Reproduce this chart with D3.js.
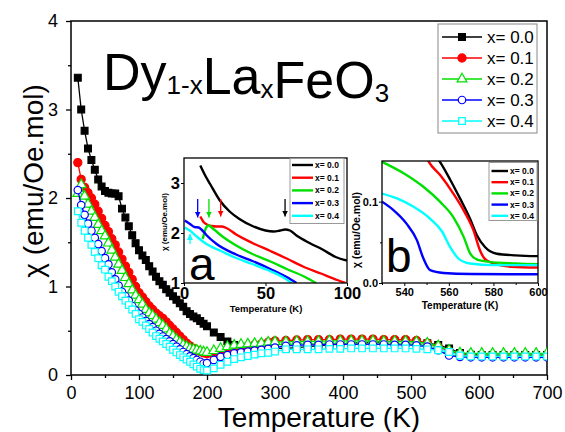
<!DOCTYPE html>
<html>
<head>
<meta charset="utf-8">
<title>Dy1-xLaxFeO3 susceptibility</title>
<script src="https://d3js.org/d3.v7.min.js"></script>
<style>
    body { margin: 0; background: #fff; }
    svg { font-family: Arial, 'Liberation Sans', sans-serif; }
</style>
</head>
<body>
<svg id="chart" width="565" height="432"></svg>
<script>
    // ---- data ----
    const labels = ["x= 0.0", "x= 0.1", "x= 0.2", "x= 0.3", "x= 0.4"];
    const colors = ["#000000", "#ff0000", "#00e000", "#0000ff", "#00ffff"];

    // main panel, temperature (K)
    const temps = [10,15,20,25,30,35,40,45,50,55,60,65,70,75,80,85,90,95,100,105,110,115,120,125,130,135,140,145,150,155,160,165,170,175,180,185,190,195,200,
                   210,220,230,240,250,260,270,280,290,300,
                   316,332,348,364,380,396,412,428,444,460,476,492,508,524,540,556,572,588,604,620,636,652,668,684,700];

    // chi (emu/Oe.mol) per composition
    const chi00 = [3.36,3.00,2.76,2.56,2.43,2.32,2.21,2.13,2.08,2.06,2.05,2.05,2.02,1.88,1.78,1.68,1.58,1.49,1.41,1.35,1.30,1.23,1.17,1.11,1.06,1.02,0.97,0.93,0.89,0.85,0.81,0.77,0.72,0.69,0.66,0.64,0.61,0.58,0.55,
                   0.48,0.43,0.38,0.34,0.32,0.31,0.30,0.30,0.30,0.30,
                   0.30,0.31,0.32,0.33,0.34,0.35,0.36,0.365,0.37,0.375,0.38,0.38,0.375,0.36,0.34,0.30,0.25,0.23,0.225,0.225,0.225,0.225,0.225,0.225,0.225];
    const chi01 = [2.40,2.21,2.12,2.06,2.00,1.93,1.85,1.77,1.69,1.62,1.54,1.47,1.39,1.31,1.23,1.16,1.08,1.00,0.93,0.88,0.83,0.78,0.74,0.70,0.67,0.64,0.60,0.56,0.52,0.48,0.44,0.40,0.36,0.33,0.30,0.28,0.265,0.25,0.24,
                   0.225,0.24,0.26,0.28,0.30,0.32,0.34,0.35,0.37,0.385,
                   0.39,0.395,0.40,0.40,0.40,0.405,0.405,0.405,0.405,0.40,0.40,0.40,0.39,0.36,0.32,0.27,0.235,0.225,0.22,0.22,0.22,0.22,0.22,0.22,0.22];
    const chi02 = [2.05,2.15,2.02,1.93,1.85,1.78,1.70,1.63,1.57,1.49,1.41,1.33,1.25,1.18,1.10,1.03,0.96,0.90,0.85,0.80,0.74,0.70,0.67,0.63,0.59,0.56,0.52,0.47,0.44,0.40,0.37,0.34,0.32,0.30,0.29,0.28,0.27,0.26,0.255,
                   0.275,0.30,0.32,0.335,0.345,0.35,0.355,0.36,0.37,0.375,
                   0.375,0.38,0.38,0.38,0.385,0.385,0.385,0.385,0.385,0.38,0.38,0.38,0.375,0.36,0.33,0.28,0.25,0.245,0.245,0.245,0.245,0.245,0.245,0.245,0.245];
    const chi03 = [2.09,1.92,1.81,1.71,1.63,1.55,1.48,1.40,1.32,1.25,1.16,1.08,1.01,0.94,0.89,0.84,0.78,0.73,0.69,0.65,0.61,0.575,0.54,0.50,0.465,0.435,0.405,0.38,0.35,0.32,0.29,0.26,0.235,0.21,0.19,0.17,0.15,0.13,0.135,
                   0.17,0.205,0.225,0.245,0.255,0.265,0.275,0.285,0.295,0.31,
                   0.33,0.335,0.34,0.34,0.345,0.345,0.345,0.345,0.345,0.345,0.34,0.34,0.335,0.32,0.28,0.22,0.205,0.20,0.20,0.20,0.20,0.20,0.20,0.20,0.20];
    const chi04 = [1.85,1.72,1.63,1.55,1.47,1.39,1.32,1.24,1.19,1.11,1.06,1.00,0.94,0.89,0.84,0.79,0.74,0.69,0.63,0.60,0.56,0.52,0.48,0.44,0.41,0.38,0.35,0.32,0.285,0.255,0.225,0.20,0.175,0.15,0.12,0.095,0.07,0.055,0.05,
                   0.075,0.115,0.15,0.18,0.20,0.215,0.23,0.245,0.25,0.265,
                   0.29,0.29,0.29,0.29,0.295,0.295,0.30,0.30,0.30,0.30,0.30,0.30,0.295,0.29,0.28,0.26,0.22,0.21,0.21,0.21,0.21,0.21,0.21,0.21,0.21];

    // inset a: low temperature detail [T, chi]
    const lowT00 = [[10,3.35],[13,3.15],[16,2.98],[22,2.65],[28,2.43],[34,2.28],[42,2.14],[50,2.05],[55,2.03],[59,2.05],[62,2.07],[65,2.05],[69,1.95],[77,1.80],[85,1.67],[93,1.52],[100,1.45]];
    const lowT01 = [[10,2.33],[12,2.22],[14,2.17],[17,2.14],[20,2.13],[23,2.13],[26,2.10],[32,1.97],[42,1.80],[53,1.64],[63,1.49],[73,1.33],[84,1.19],[94,1.06],[99,1.0]];
    const lowT02 = [[11.5,1.88],[13,2.06],[15,2.15],[18,2.08],[24,1.92],[32,1.75],[42,1.58],[53,1.43],[63,1.28],[73,1.14],[81,1.0]];
    const lowT03 = [[0.5,2.25],[3.7,2.18],[6.5,2.12],[9,2.11],[11,2.06],[14,1.95],[20,1.78],[32,1.57],[42,1.44],[53,1.28],[63,1.12],[69,1.0]];
    const lowT04 = [[0.5,2.11],[3.5,2.05],[7.8,1.93],[12,1.82],[16,1.74],[22,1.65],[32,1.50],[42,1.38],[52,1.25],[60,1.13],[66,1.0]];
    // arrows in inset a: [T, chi start, chi end]
    const arrowsA = [[62,2.68,2.33],[22.5,2.68,2.33],[15.3,2.68,2.31],[8.4,2.68,2.31],[3.7,1.78,1.98]];

    // inset b: high temperature detail [T, chi]
    const highT00 = [[553,0.16],[556,0.149],[560.6,0.127],[565,0.104],[569.5,0.079],[572.5,0.059],[576.3,0.044],[581.5,0.036],[590,0.034],[600,0.033]];
    const highT01 = [[549,0.16],[551,0.149],[556,0.133],[562,0.11],[567,0.0875],[571,0.065],[574,0.040],[576,0.030],[580,0.024],[588,0.020],[600,0.019]];
    const highT02 = [[530,0.149],[539.7,0.135],[548.7,0.118],[556,0.10],[562,0.081],[566.6,0.057],[569.6,0.036],[572.5,0.029],[578,0.026],[590,0.024],[600,0.023]];
    const highT03 = [[530,0.10],[535,0.09],[541,0.073],[545.6,0.053],[548.6,0.030],[551.6,0.0157],[557.6,0.0123],[570,0.011],[600,0.0107]];
    const highT04 = [[530,0.11],[536.7,0.104],[544,0.094],[551.6,0.079],[557,0.063],[560.6,0.044],[564.3,0.030],[569.5,0.024],[580,0.022],[600,0.022]];

    const mainTicksX = [0,100,200,300,400,500,600,700];
    const mainTicksY = [0,1,2,3,4];

    const chis = [chi00, chi01, chi02, chi03, chi04];
    const lowSets = [lowT00, lowT01, lowT02, lowT03, lowT04];
    const highSets = [highT00, highT01, highT02, highT03, highT04];
    const symbols = [d3.symbolSquare, d3.symbolCircle, d3.symbolTriangle, d3.symbolCircle, d3.symbolSquare];
    const symSize = [46, 52, 42, 44, 44];
    const filled = [true, true, false, false, false];

    const series = labels.map((name, i) => ({
        name, color: colors[i], sym: symbols[i], size: symSize[i], filled: filled[i],
        pts: temps.map((t, j) => [t, chis[i][j]]),
        low: lowSets[i], high: highSets[i]
    }));

    const svg = d3.select("#chart");
    const fmtInt = d3.format("d");

    // ---- main panel ----
    const x = d3.scaleLinear().domain([0, 700]).range([71, 547]);
    const y = d3.scaleLinear().domain([0, 4]).range([375, 21]);

    const defs = svg.append("defs");
    defs.append("clipPath").attr("id", "clipMain")
        .append("rect").attr("x", 71).attr("y", 21).attr("width", 476).attr("height", 354);

    // minor ticks
    svg.append("g").attr("transform", "translate(0,375)")
        .call(d3.axisBottom(x).tickValues(d3.range(50, 700, 100)).tickSize(3).tickFormat(""))
        .call(g => g.select(".domain").remove())
        .selectAll("line").attr("stroke-width", 1.3);
    svg.append("g").attr("transform", "translate(71,0)")
        .call(d3.axisLeft(y).tickValues([0.5, 1.5, 2.5, 3.5]).tickSize(3).tickFormat(""))
        .call(g => g.select(".domain").remove())
        .selectAll("line").attr("stroke-width", 1.3);

    const xAxis = svg.append("g").attr("transform", "translate(0,375)")
        .call(d3.axisBottom(x).tickValues(mainTicksX).tickFormat(fmtInt).tickSize(5).tickPadding(6).tickSizeOuter(0));
    const yAxis = svg.append("g").attr("transform", "translate(71,0)")
        .call(d3.axisLeft(y).tickValues(mainTicksY).tickFormat(fmtInt).tickSize(5).tickPadding(8).tickSizeOuter(0));
    [xAxis, yAxis].forEach(a => {
        a.selectAll("text").attr("font-size", 18).attr("font-family", "Arial, 'Liberation Sans', sans-serif");
        a.selectAll("line").attr("stroke-width", 1.3);
        a.select(".domain").remove();
    });

    svg.append("rect").attr("x", 71).attr("y", 21).attr("width", 476).attr("height", 354)
        .attr("fill", "none").attr("stroke", "#000").attr("stroke-width", 1.5);

    const mainLine = d3.line().x(d => x(d[0])).y(d => y(d[1]));
    const dataG = svg.append("g").attr("clip-path", "url(#clipMain)");
    series.forEach(s => {
        dataG.append("path").datum(s.pts)
            .attr("d", mainLine).attr("fill", "none")
            .attr("stroke", s.color).attr("stroke-width", 1.3);
        dataG.selectAll(null).data(s.pts).enter().append("path")
            .attr("transform", d => `translate(${x(d[0])},${y(d[1])})`)
            .attr("d", d3.symbol().type(s.sym).size(s.size))
            .attr("fill", s.filled ? s.color : "#fff")
            .attr("stroke", s.color).attr("stroke-width", 1.2);
    });

    // axis titles
    svg.append("text").attr("x", 319).attr("y", 427).attr("text-anchor", "middle")
        .attr("font-size", 28).text("Temperature (K)");
    svg.append("text").attr("transform", "translate(43,181) rotate(-90)")
        .attr("text-anchor", "middle").attr("font-size", 28).text("χ (emu/Oe.mol)");

    // formula title
    const title = svg.append("text").attr("x", 103).attr("y", 90).attr("font-size", 52);
    [["Dy", false], ["1-x", true], ["La", false], ["x", true], ["FeO", false], ["3", true]].forEach(([t, sub]) => {
        title.append("tspan").attr("font-size", sub ? 26 : 52).attr("dy", sub ? 4 : 0)
            .text(t);
        if (sub) title.append("tspan").attr("dy", -4).attr("font-size", 52).text("");
    });

    // main legend
    const leg = svg.append("g");
    leg.append("rect").attr("x", 438).attr("y", 24).attr("width", 99).attr("height", 109)
        .attr("fill", "#fff").attr("stroke", "#888").attr("stroke-width", 1);
    series.forEach((s, i) => {
        const ly = 37 + i * 21;
        leg.append("line").attr("x1", 442).attr("x2", 482).attr("y1", ly).attr("y2", ly)
            .attr("stroke", s.color).attr("stroke-width", 1.3);
        leg.append("path").attr("transform", `translate(462,${ly})`)
            .attr("d", d3.symbol().type(s.sym).size(s.size))
            .attr("fill", s.filled ? s.color : "#fff").attr("stroke", s.color).attr("stroke-width", 1.2);
        leg.append("text").attr("x", 487).attr("y", ly).attr("dy", "0.36em")
            .attr("font-size", 17).text(s.name);
    });

    // ---- inset a ----
    const xa = d3.scaleLinear().domain([0, 100]).range([184, 347]);
    const ya = d3.scaleLinear().domain([1, 3.5]).range([283, 158]);
    defs.append("clipPath").attr("id", "clipA")
        .append("rect").attr("x", 184).attr("y", 158).attr("width", 163).attr("height", 125);
    const ga = svg.append("g");
    ga.append("rect").attr("x", 184).attr("y", 158).attr("width", 163).attr("height", 125).attr("fill", "#fff");

    const axA = ga.append("g").attr("transform", "translate(0,283)")
        .call(d3.axisBottom(xa).tickValues([0, 50, 100]).tickFormat(fmtInt).tickSize(3).tickPadding(1).tickSizeOuter(0));
    const ayA = ga.append("g").attr("transform", "translate(184,0)")
        .call(d3.axisLeft(ya).tickValues([1, 2, 3]).tickFormat(fmtInt).tickSize(3).tickPadding(1).tickSizeOuter(0));
    [axA, ayA].forEach(a => {
        a.selectAll("text").attr("font-size", 16.5).attr("font-weight", "bold")
            .attr("font-family", "Arial, 'Liberation Sans', sans-serif");
        a.select(".domain").remove();
    });

    const lineA = d3.line().x(d => xa(d[0])).y(d => ya(d[1])).curve(d3.curveMonotoneX);
    const dA = ga.append("g").attr("clip-path", "url(#clipA)");
    series.forEach(s => {
        dA.append("path").datum(s.low).attr("d", lineA).attr("fill", "none")
            .attr("stroke", s.color).attr("stroke-width", 2.4);
    });

    series.forEach((s, i) => {
        const id = "arrow" + i;
        defs.append("marker").attr("id", id).attr("markerUnits", "userSpaceOnUse")
            .attr("markerWidth", 7).attr("markerHeight", 7).attr("refX", 6).attr("refY", 3)
            .attr("orient", "auto")
            .append("path").attr("d", "M0,0 L6,3 L0,6 Z").attr("fill", s.color);
        const a = arrowsA[i];
        ga.append("line").attr("x1", xa(a[0])).attr("x2", xa(a[0]))
            .attr("y1", ya(a[1])).attr("y2", ya(a[2]))
            .attr("stroke", s.color).attr("stroke-width", 1.3).attr("marker-end", `url(#${id})`);
    });

    ga.append("rect").attr("x", 184).attr("y", 158).attr("width", 163).attr("height", 125)
        .attr("fill", "none").attr("stroke", "#000").attr("stroke-width", 1.3);
    ga.append("text").attr("x", 189).attr("y", 280).attr("font-size", 46).text("a");
    ga.append("text").attr("x", 266).attr("y", 311.5).attr("text-anchor", "middle")
        .attr("font-size", 9.5).attr("font-weight", "bold").text("Temperature (K)");
    ga.append("text").attr("transform", "translate(167,222) rotate(-90)").attr("text-anchor", "middle")
        .attr("font-size", 8).attr("font-weight", "bold").text("χ (emu/Oe.mol)");

    const legA = ga.append("g");
    legA.append("rect").attr("x", 290).attr("y", 158.5).attr("width", 54).attr("height", 65)
        .attr("fill", "#fff").attr("stroke", "#999").attr("stroke-width", 1);
    series.forEach((s, i) => {
        const ly = 165 + i * 12.7;
        legA.append("line").attr("x1", 292).attr("x2", 313).attr("y1", ly).attr("y2", ly)
            .attr("stroke", s.color).attr("stroke-width", 2.4);
        legA.append("text").attr("x", 315).attr("y", ly).attr("dy", "0.36em")
            .attr("font-size", 8.5).attr("font-weight", "bold").text(s.name);
    });

    // ---- inset b ----
    const xb = d3.scaleLinear().domain([530, 600]).range([382, 538]);
    const yb = d3.scaleLinear().domain([0, 0.15]).range([283, 161]);
    defs.append("clipPath").attr("id", "clipB")
        .append("rect").attr("x", 382).attr("y", 161).attr("width", 156).attr("height", 122);
    const gb = svg.append("g");
    gb.append("rect").attr("x", 382).attr("y", 161).attr("width", 156).attr("height", 122).attr("fill", "#fff");

    gb.append("g").attr("transform", "translate(0,283)")
        .call(d3.axisBottom(xb).tickValues([530, 550, 570, 590]).tickSize(2).tickFormat(""))
        .call(g => g.select(".domain").remove());
    gb.append("g").attr("transform", "translate(382,0)")
        .call(d3.axisLeft(yb).tickValues([0.05]).tickSize(2).tickFormat(""))
        .call(g => g.select(".domain").remove());
    const axB = gb.append("g").attr("transform", "translate(0,283)")
        .call(d3.axisBottom(xb).tickValues([540, 560, 580, 600]).tickFormat(fmtInt).tickSize(3).tickPadding(2).tickSizeOuter(0));
    const ayB = gb.append("g").attr("transform", "translate(382,0)")
        .call(d3.axisLeft(yb).tickValues([0, 0.1]).tickFormat(d3.format(".1f")).tickSize(3).tickPadding(1).tickSizeOuter(0));
    [axB, ayB].forEach(a => {
        a.selectAll("text").attr("font-size", 11).attr("font-weight", "bold")
            .attr("font-family", "Arial, 'Liberation Sans', sans-serif");
        a.select(".domain").remove();
    });

    const lineB = d3.line().x(d => xb(d[0])).y(d => yb(d[1])).curve(d3.curveMonotoneX);
    const dB = gb.append("g").attr("clip-path", "url(#clipB)");
    series.forEach(s => {
        dB.append("path").datum(s.high).attr("d", lineB).attr("fill", "none")
            .attr("stroke", s.color).attr("stroke-width", 2.4);
    });

    gb.append("rect").attr("x", 382).attr("y", 161).attr("width", 156).attr("height", 122)
        .attr("fill", "none").attr("stroke", "#000").attr("stroke-width", 1.3);
    gb.append("text").attr("x", 386).attr("y", 272).attr("font-size", 46).text("b");
    gb.append("text").attr("x", 460).attr("y", 308.5).attr("text-anchor", "middle")
        .attr("font-size", 10).attr("font-weight", "bold").text("Temperature (K)");
    gb.append("text").attr("transform", "translate(360,230) rotate(-90)").attr("text-anchor", "middle")
        .attr("font-size", 10.5).attr("font-weight", "bold").text("χ (emu/Oe.mol)");

    const legB = gb.append("g");
    legB.append("rect").attr("x", 489).attr("y", 162.5).attr("width", 48).attr("height", 58)
        .attr("fill", "#fff").attr("stroke", "#999").attr("stroke-width", 1);
    series.forEach((s, i) => {
        const ly = 171 + i * 11.2;
        legB.append("line").attr("x1", 491.5).attr("x2", 508).attr("y1", ly).attr("y2", ly)
            .attr("stroke", s.color).attr("stroke-width", 2.4);
        legB.append("text").attr("x", 510).attr("y", ly).attr("dy", "0.36em")
            .attr("font-size", 8.5).attr("font-weight", "bold").text(s.name);
    });
</script>
</body>
</html>
